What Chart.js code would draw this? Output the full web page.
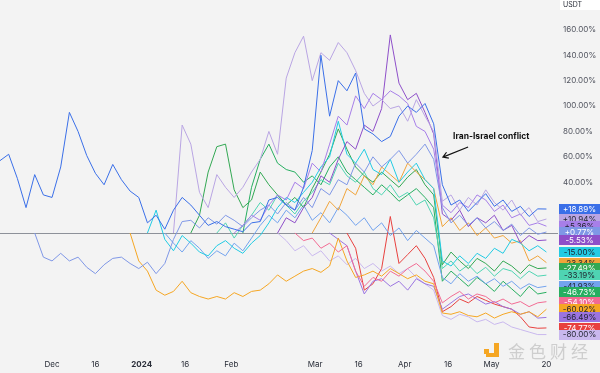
<!DOCTYPE html>
<html>
<head>
<meta charset="utf-8">
<script src="https://cdn.jsdelivr.net/npm/chart.js@4.4.1/dist/chart.umd.min.js"></script>
<style>
  html, body { margin: 0; padding: 0; background: #f3f3f3; }
  #wrap { width: 600px; height: 373px; }
</style>
</head>
<body>
<div id="wrap"><canvas id="chart" width="600" height="373"></canvas></div>
<script>
// day offsets from Dec 1 2023, sampled every 3 days
const DAYS = [-18, -15, -12, -9, -6, -3, 0, 3, 6, 9, 12, 15, 18, 21, 24, 27, 30, 33, 36, 39,
  42, 45, 48, 51, 54, 57, 60, 63, 66, 69, 72, 75, 78, 81, 84, 87, 90, 93, 96, 99,
  102, 105, 108, 111, 114, 117, 120, 123, 126, 129, 132, 135, 138, 141, 144, 147, 150, 153, 156, 159,
  162, 165, 168, 171];

const TICK_DAYS = [0, 15, 31, 46, 62, 91, 106, 122, 137, 152, 171];
const TICK_LABELS = ["Dec", "16", "2024", "16", "Feb", "Mar", "16", "Apr", "16", "May", "20"];
const Y_TICKS = [40, 60, 80, 100, 120, 140, 160];

// % change series (each starts at its listing day)
const mainBlue = [57, 62, 43, 20, 46, 30, 28, 52, 95, 80, 61, 47, 38, 54, 42, 33, 28, 8, 14, 3,
  18, 28, 22, 14, 6, 9, 5, 3, 1, 8, 9, 26, 28, 22, 18, 36, 65, 140, 92, 120,
  112, 126, 82, 78, 72, 76, 92, 100, 95, 102, 86, 38, 22, 26, 17, 24, 31, 21, 26, 17,
  21, 13, 19, 18.89];
const lavender = [0, 85, 70, 32, 20, 46, 36, 28, 36, 48, 58, 80, 62, 122, 142, 155, 120, 142, 136, 150,
  142, 128, 110, 100, 105, 98, 100, 88, 105, 92, 80, 25, 30, 18, 28, 22, 34, 24, 18, 26,
  14, 20, 9, 11];
const purple = [0, 6, 14, 10, 22, 30, 26, 40, 35, 55, 48, 70, 92, 85, 108, 98, 110, 105, 112, 108,
  102, 84, 80, 66, 22, 16, 24, 20, 30, 26, 17, 22, 12, 15, 6, 8, 5.36];
const periwinkle = [0, -19, -22, -16, -22, -19, -27, -32, -25, -20, -19, -24, -28, -23, -32, -24, -5, 9, 10, 4,
  12, 7, 14, 10, 5, 12, 18, 22, 15, 24, 18, 28, 20, 35, 30, 42, 38, 55, 48, 60,
  52, 58, 65, 55, 62, 70, 58, 20, 8, 14, 6, 12, 4, 9, 2, 7, -2, 4, -1, 0.77];
const violet = [0, 12, 8, 20, 28, 45, 40, 58, 72, 66, 85, 80, 98, 156, 118, 105, 110, 95, 78, 15,
  10, 18, 5, 12, 8, 14, 2, 6, -8, -2, -6, -5.53];
const cyan = [0, 18, -5, -14, -2, -8, -15, -18, -10, -6, -12, -16, -8, -2, 8, 20, 28, 24, 32, 40,
  52, 60, 88, 62, 55, 66, 50, 46, 58, 40, 48, 55, 42, 35, -22, -26, -18, -24, -16, -20,
  -12, -16, -5, -8, -14, -10, -15];
const amber = [0, 12, 25, 18, 35, 30, 45, 38, 52, 46, 40, 55, 48, 42, 35, 5, 12, 2, 8, -2,
  4, -4, -2, -8, -6, -22, -18, -23.34];
const green = [0, 14, 48, 68, 70, 34, 20, 26, 48, 38, 30, 22, 28, 20, 35, 48, 62, 82, 66, 52,
  45, 40, 48, 42, 36, 44, 50, 38, 30, -25, -15, -22, -28, -20, -24, -30, -22, -26, -32, -25,
  -28, -27.49];
const mint = [0, 8, -4, 6, 14, 24, 18, 30, 22, 15, 25, 32, 42, 38, 55, 45, 40, 48, 35, 30,
  38, 28, 32, 22, 26, 12, -28, -22, -30, -25, -32, -27, -34, -28, -30, -36, -30, -34, -33.19];
const skyBlue = [0, -8, -15, -6, -12, -20, -14, -18, -8, -14, -4, 6, 14, 8, 18, 12, 22, 10, 16, 8,
  20, 14, 6, 12, 2, 8, -2, 4, -6, 2, -4, -10, -35, -40, -32, -38, -34, -40, -36, -42,
  -38, -44, -40, -43, -41.93];
const green2 = [0, 36, 58, 70, 55, 50, 48, 40, 45, 38, 52, 60, 48, 42, 36, 30, 38, 32, 25, 30,
  35, 28, 20, -38, -30, -36, -42, -35, -40, -46, -38, -44, -50, -42, -48, -46.73];
const pink = [0, -6, -4, -12, -8, -15, -10, -30, -42, -35, -38, -30, -34, -28, -24, -30, -38, -55, -50, -46,
  -52, -48, -50, -55, -52, -56, -54, -58, -55, -54.10];
const orange = [0, -22, -30, -45, -49, -46, -38, -47, -50, -52, -50, -52, -47, -50, -46, -45, -40, -33, -38, -34,
  -30, -28, -31, -26, -4, -22, -35, -33, -30, -34, -28, -32, -36, -33, -38, -40, -63, -64, -62, -65,
  -66, -63, -67, -64, -62, -64, -62, -66, -60.02];
const purple2 = [0, -5, -10, -30, -48, -38, -36, -42, -38, -45, -36, -40, -42, -60, -55, -50, -48, -52, -56, -54,
  -58, -60, -64, -62, -67, -66.49];
const red = [0, -12, -45, -40, -28, 13, -24, -17, -10, -20, -35, -62, -58, -52, -55, -50, -53, -56, -58, -60,
  -66, -74, -75, -74.77];
const lilac = [0, -6, -14, -10, -18, -14, -22, -18, -25, -20, -28, -24, -30, -26, -32, -28, -35, -40, -45, -65,
  -68, -64, -66, -70, -68, -72, -70, -74, -76, -78, -80, -80];

const SERIES_VALUES = [mainBlue, lavender, purple, periwinkle, violet, cyan, amber, green,
  mint, skyBlue, green2, pink, orange, purple2, red, lilac];
const SERIES_START = [-18, 42, 63, -6, 78, 33, 90, 48, 57, 39, 66, 84, 27, 96, 102, 78];
const SERIES_COLORS = ["#3a6fe8", "#b9a5e3", "#a77fe8", "#7f97e6", "#8e4fc9", "#22cbe3", "#f0a43a", "#33a853",
  "#4fd4b2", "#73a3ee", "#27ae60", "#f26b93", "#f5a623", "#9b74e0", "#e8403e", "#c9b8ee"];
const END_LABELS = ["+18.89%", "+10.94%", "+5.36%", "+0.77%", "-5.53%", "-15.00%", "-23.34%", "-27.49%",
  "-33.19%", "-41.93%", "-46.73%", "-54.10%", "-60.02%", "-66.49%", "-74.77%", "-80.00%"];
const LABEL_TEXT = ["#ffffff", "#1e222d", "#1e222d", "#ffffff", "#ffffff", "#1e222d", "#1e222d", "#ffffff",
  "#1e222d", "#1e222d", "#ffffff", "#ffffff", "#1e222d", "#1e222d", "#ffffff", "#1e222d"];

const FONT = "Inter";

const datasets = SERIES_VALUES.map((vals, i) => {
  const s = DAYS.indexOf(SERIES_START[i]);
  return {
    label: END_LABELS[i],
    data: vals.map((v, j) => ({ x: DAYS[s + j], y: v })),
    borderColor: SERIES_COLORS[i],
    borderWidth: 1,
    pointRadius: 0,
    tension: 0,
    fill: false
  };
});

const overlayPlugin = {
  id: "overlay",
  beforeDatasetsDraw(chart) {
    const { ctx, chartArea, scales } = chart;
    const y0 = Math.round(scales.y.getPixelForValue(0)) + 0.5;
    ctx.save();
    ctx.strokeStyle = "#8d9199";
    ctx.lineWidth = 1;
    ctx.beginPath();
    ctx.moveTo(chartArea.left, y0);
    ctx.lineTo(chartArea.right, y0);
    ctx.stroke();
    ctx.restore();
  },
  afterDraw(chart) {
    const { ctx, chartArea, scales } = chart;
    const xs = scales.x, ys = scales.y;
    ctx.save();

    // last value labels, top to bottom
    const last = (i) => SERIES_VALUES[i][SERIES_VALUES[i].length - 1];
    const order = SERIES_VALUES.map((v, i) => i).sort((a, b) => last(b) - last(a));
    ctx.font = "8px " + FONT;
    ctx.textAlign = "center";
    ctx.textBaseline = "middle";
    order.forEach(i => {
      const y = ys.getPixelForValue(last(i));
      ctx.fillStyle = SERIES_COLORS[i];
      ctx.fillRect(chartArea.right + 1, Math.round(y - 5), 41, 10);
      ctx.fillStyle = LABEL_TEXT[i];
      ctx.fillText(END_LABELS[i], chartArea.right + 21.5, y + 0.5);
    });

    // currency tag
    ctx.fillStyle = "#ffffff";
    ctx.fillRect(chartArea.right + 2, 0, 40, 10);
    ctx.fillStyle = "#2a2e39";
    ctx.textAlign = "left";
    ctx.font = "7px " + FONT;
    ctx.fillText("USDT", chartArea.right + 5, 5);

    // annotation
    ctx.fillStyle = "#111111";
    ctx.font = "bold 8.5px " + FONT;
    ctx.fillText("Iran-Israel conflict", xs.getPixelForValue(138.7), ys.getPixelForValue(76.4));
    const tx = xs.getPixelForValue(143.9), ty = ys.getPixelForValue(67.7);
    const hx = xs.getPixelForValue(135.2), hy = ys.getPixelForValue(59.8);
    const ang = Math.atan2(hy - ty, hx - tx);
    ctx.strokeStyle = "#111111";
    ctx.lineWidth = 1.2;
    ctx.beginPath();
    ctx.moveTo(tx, ty);
    ctx.lineTo(hx, hy);
    ctx.moveTo(hx - 6 * Math.cos(ang - 0.55), hy - 6 * Math.sin(ang - 0.55));
    ctx.lineTo(hx, hy);
    ctx.lineTo(hx - 6 * Math.cos(ang + 0.55), hy - 6 * Math.sin(ang + 0.55));
    ctx.stroke();

    // watermark
    ctx.fillStyle = "#f5a623";
    ctx.fillRect(484, 349, 5, 5);
    ctx.fillRect(494, 343, 5, 14);
    ctx.fillRect(486, 353, 13, 4);
    ctx.fillStyle = "rgba(190,190,190,0.7)";
    ctx.font = "17px 'Noto Sans CJK SC'";
    ctx.textBaseline = "alphabetic";
    "金色财经".split("").forEach((ch, k) => ctx.fillText(ch, 508 + k * 21, 358));
    ctx.restore();
  }
};

new Chart(document.getElementById("chart"), {
  type: "line",
  data: { datasets: datasets },
  options: {
    responsive: false,
    animation: false,
    devicePixelRatio: 1,
    layout: { padding: { left: 0, right: 0, top: 0, bottom: 3 } },
    plugins: { legend: { display: false }, tooltip: { enabled: false } },
    scales: {
      x: {
        type: "linear",
        min: -18,
        max: 175,
        grid: { display: false, drawTicks: false },
        border: { display: false },
        afterBuildTicks: (s) => { s.ticks = TICK_DAYS.map(v => ({ value: v })); },
        afterFit: (s) => { s.height = 25; s.paddingLeft = 0; s.paddingRight = 0; },
        ticks: {
          autoSkip: false,
          maxRotation: 0,
          padding: 15,
          color: "#2a2e39",
          font: (c) => ({ family: FONT, size: 8, weight: c.tick && c.tick.value === 31 ? "bold" : "normal" }),
          callback: (v) => { const k = TICK_DAYS.indexOf(v); return k >= 0 ? TICK_LABELS[k] : ""; }
        }
      },
      y: {
        position: "right",
        min: -88.2,
        max: 183.5,
        grid: { display: false, drawTicks: false },
        border: { display: false },
        afterBuildTicks: (s) => { s.ticks = Y_TICKS.map(v => ({ value: v })); },
        afterFit: (s) => { s.width = 42; s.paddingTop = 0; s.paddingBottom = 0; },
        ticks: {
          padding: 5,
          color: "#50535e",
          font: { family: FONT, size: 8 },
          callback: (v) => v.toFixed(2) + "%"
        }
      }
    }
  },
  plugins: [overlayPlugin]
});
</script>
</body>
</html>
